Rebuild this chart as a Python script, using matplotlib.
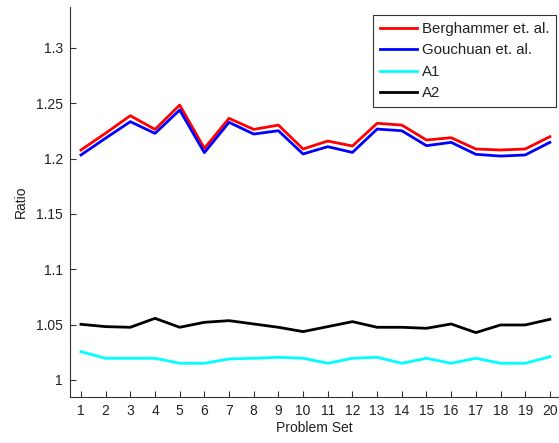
import matplotlib
matplotlib.use("Agg")
import matplotlib.pyplot as plt

plt.rcParams['font.family'] = ['Liberation Sans', 'DejaVu Sans']

problem_set = list(range(1, 21))
berghammer = [1.2078, 1.2230, 1.2388, 1.2264, 1.2484, 1.2093, 1.2364, 1.2264, 1.2303, 1.2087,
              1.2159, 1.2114, 1.2319, 1.2303, 1.2168, 1.2189, 1.2087, 1.2078, 1.2087, 1.2198]
gouchuan = [1.2033, 1.2185, 1.2334, 1.2228, 1.2439, 1.2054, 1.2328, 1.2222, 1.2252, 1.2042,
            1.2108, 1.2056, 1.2267, 1.2252, 1.2117, 1.2147, 1.2039, 1.2023, 1.2033, 1.2147]
a1 = [1.0256, 1.0196, 1.0196, 1.0196, 1.0151, 1.0151, 1.0190, 1.0196, 1.0205, 1.0196,
      1.0151, 1.0196, 1.0205, 1.0151, 1.0196, 1.0151, 1.0196, 1.0151, 1.0151, 1.0210]
a2 = [1.0503, 1.0482, 1.0476, 1.0557, 1.0476, 1.0521, 1.0536, 1.0506, 1.0476, 1.0437,
      1.0482, 1.0527, 1.0476, 1.0476, 1.0467, 1.0506, 1.0428, 1.0497, 1.0497, 1.0548]
y_ticks = [1, 1.05, 1.1, 1.15, 1.2, 1.25, 1.3]
y_tick_labels = ['1', '1.05', '1.1', '1.15', '1.2', '1.25', '1.3']

fig = plt.figure(figsize=(5.59, 4.43), dpi=100)
ax = fig.add_axes([0.1252, 0.1038, 0.8748, 0.8804])

ax.plot(problem_set, berghammer, color='red', lw=2, label='Berghammer et. al.')
ax.plot(problem_set, gouchuan, color='blue', lw=2, label='Gouchuan et. al.')
ax.plot(problem_set, a1, color='cyan', lw=2, label='A1')
ax.plot(problem_set, a2, color='black', lw=2, label='A2')

ax.set_xlim(0.555, 20.37)
ax.set_ylim(0.9846, 1.337)
ax.set_xticks(problem_set)
ax.set_yticks(y_ticks)
ax.set_yticklabels(y_tick_labels)

axis_color = '#333333'
for side in ('top', 'right'):
    ax.spines[side].set_visible(False)
for side in ('left', 'bottom'):
    ax.spines[side].set_color(axis_color)
    ax.spines[side].set_linewidth(0.8)
ax.tick_params(direction='in', length=4, width=0.8, colors=axis_color,
               labelsize=10, labelcolor='#222222', pad=5)

ax.set_xlabel('Problem Set', fontsize=10, color='#222222', labelpad=2)
ax.set_ylabel('Ratio', fontsize=10, color='#222222', labelpad=6)

leg = ax.legend(loc='upper right', bbox_to_anchor=(556 / 559, 1 - 15 / 443),
                bbox_transform=fig.transFigure, fontsize=10.8, frameon=True,
                fancybox=False, handlelength=2.5, handletextpad=0.3,
                borderpad=0.45, labelspacing=0.5, borderaxespad=0)
leg.get_frame().set_edgecolor('black')
leg.get_frame().set_linewidth(0.8)
for text in leg.get_texts():
    text.set_color('#222222')

fig.savefig('out.png', dpi=100)
